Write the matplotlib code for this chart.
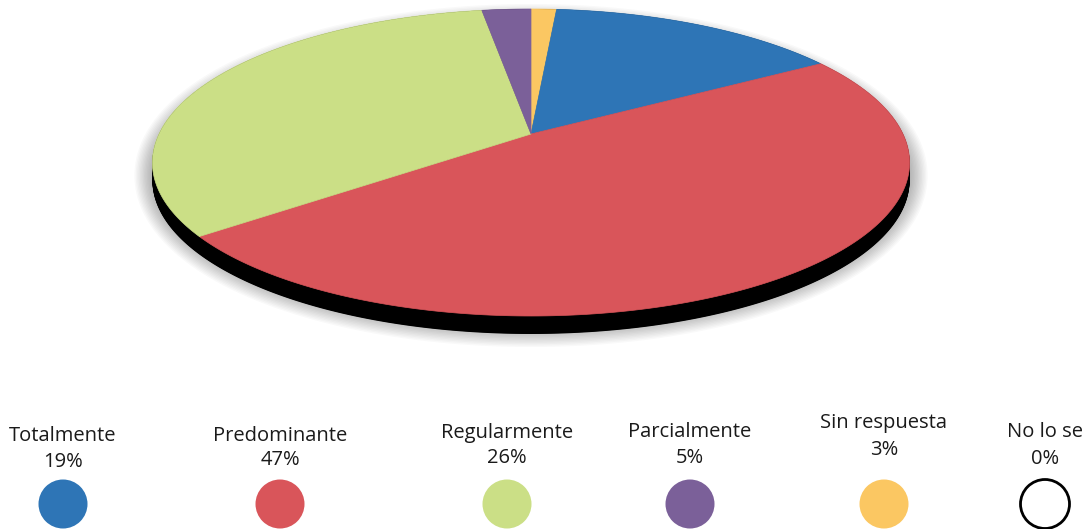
import numpy as np
import matplotlib.pyplot as plt

# slice shares as drawn in the picture (clockwise from the top)
slice_names = ["Sin respuesta", "Totalmente", "Predominante", "Regularmente", "Parcialmente"]
slice_shares = [1.3, 15.0, 48.2, 33.0, 2.5]
slice_colors = ["#FBC762", "#2E75B6", "#D9555A", "#CBDF86", "#7B6099"]

# legend entries
legend_names = ["Totalmente", "Predominante", "Regularmente", "Parcialmente", "Sin respuesta", "No lo se"]
legend_pcts = ["19%", "47%", "26%", "5%", "3%", "0%"]
legend_colors = ["#2E75B6", "#D9555A", "#CBDF86", "#7B6099", "#FBC762", "white"]

W, H = 1085, 529
fig = plt.figure(figsize=(W / 100, H / 100), dpi=100)
ax = fig.add_axes([0, 0, 1, 1])
ax.set_xlim(0, W)
ax.set_ylim(H, 0)
ax.axis("off")

# tilted disc seen in perspective
cx, cy = 531, 134
a, b, k = 372, 148.2, 0.1857
depth = 18


def proj(t):
    t = np.radians(t)
    d = 1 + k * np.cos(t)
    return cx + a * np.sin(t) / d, cy - b * np.cos(t) / d


rim = np.linspace(0, 360, 721)
rx, ry = proj(rim)

# soft shadow
for w in range(26, 0, -2):
    ax.fill(rx, ry + 13, color="black", alpha=0.025, lw=w, zorder=1)

# black side of the disc
for dy in np.linspace(0, depth, 37):
    ax.fill(rx, ry + dy, color="black", lw=0, zorder=2)

# top face
start = 0.0
total = sum(slice_shares)
for share, col in zip(slice_shares, slice_colors):
    end = start + share / total * 360
    tt = np.linspace(start, end, 200)
    px, py = proj(tt)
    ax.fill(np.r_[cx, px], np.r_[cy, py], color=col, lw=0.5, ec=col, zorder=3)
    start = end

# legend
lx = [63, 280, 507, 690, 884, 1045]
ly_name = [436, 436, 433, 432, 423, 432]
ly_pct = [462, 460, 458, 458, 450, 459]
for i in range(len(legend_names)):
    ax.text(lx[i], ly_name[i], legend_names[i], ha="center", va="center",
            fontsize=14.5, family="Open Sans", color="#1a1a1a")
    ax.text(lx[i], ly_pct[i], legend_pcts[i], ha="center", va="center",
            fontsize=14.5, family="Open Sans", color="#1a1a1a")
    ec = "black" if legend_colors[i] == "white" else legend_colors[i]
    ax.add_patch(plt.Circle((lx[i], 504), 24.5, fc=legend_colors[i], ec=ec,
                            lw=2 if ec == "black" else 0))

fig.savefig("out.png", dpi=100)
